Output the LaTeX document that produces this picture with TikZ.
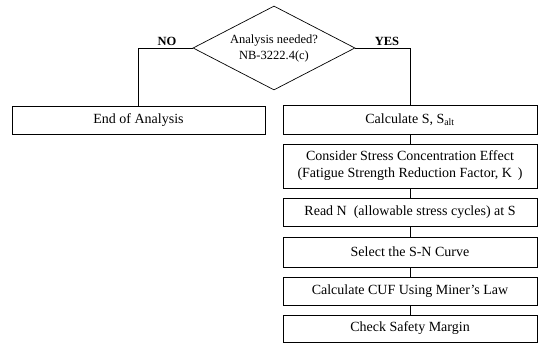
\documentclass[tikz,border=0pt]{standalone}
\usepackage{fontspec}
\setmainfont{Liberation Serif}
\usetikzlibrary{shapes.geometric}
\begin{document}
\begin{tikzpicture}[x=1pt,y=-1pt,
    every node/.style={font=\fontsize{14}{17}\selectfont},
    stepbox/.style={draw,line width=0.9pt,minimum width=254pt,inner sep=0pt,align=center},
    decision/.style={draw,line width=0.7pt,diamond,aspect=1.93,minimum width=162pt,minimum height=84pt,inner sep=0pt,align=center,font=\fontsize{12.5}{16}\selectfont},
    answer/.style={font=\fontsize{12.5}{15}\selectfont\bfseries}]
      \useasboundingbox (0,0) rectangle (540,344);
      \node[decision] (check) at (274,48) {Analysis needed?\\NB-3222.4(c)};
      \node[stepbox,minimum width=253pt,minimum height=28pt] (end) at (138.5,120) {End of Analysis};
      \node[stepbox,minimum height=29pt] (salt) at (410,119.5) {Calculate S, S\textsubscript{alt}};
      \node[stepbox,minimum height=44pt] (kf) at (410,166) {Consider Stress Concentration Effect\\(Fatigue Strength Reduction Factor, K\ \,)};
      \node[stepbox,minimum height=28pt] (cycles) at (410,212) {Read N\ \ (allowable stress cycles) at S};
      \node[stepbox,minimum height=30pt] (curve) at (410,252) {Select the S-N Curve};
      \node[stepbox,minimum height=28pt] (cuf) at (410,291) {Calculate CUF Using Miner's Law};
      \node[stepbox,minimum height=27pt] (margin) at (410,328.5) {Check Safety Margin};
      \node[answer] (no) at (167,41) {NO};
      \node[answer] (yes) at (387,41) {YES};
      \begin{scope}[line width=0.6pt]
        \draw (check.west) -| (end.north);
        \draw (check.east) -| (salt.north);
        \draw (salt) to (kf);
        \draw (kf) to (cycles);
        \draw (cycles) to (curve);
        \draw (curve) to (cuf);
        \draw (cuf) to (margin);
      \end{scope}
    \end{tikzpicture}
\end{document}
